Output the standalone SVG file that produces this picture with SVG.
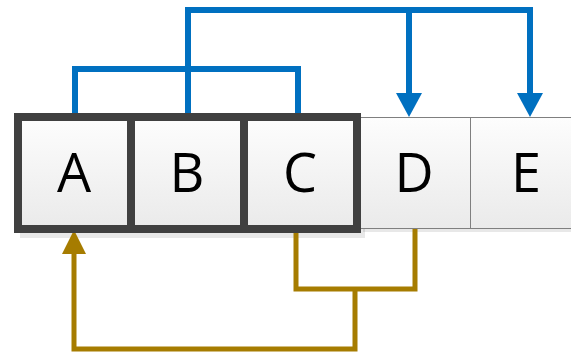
<svg xmlns="http://www.w3.org/2000/svg" width="571" height="352" viewBox="0 0 571 352">
  <style>
    .lbl { font-family: "Open Sans", "Noto Sans", "DejaVu Sans", sans-serif; font-size: 54px; fill: #000; text-anchor: middle; }
    .thick { fill: url(#g); stroke: #404040; stroke-width: 8; }
    .thin { fill: url(#g); stroke: #7f7f7f; stroke-width: 1; }
    .shadow { fill: #000; opacity: 0.09; }
    .blue { fill: none; stroke: #0070C0; stroke-width: 6; }
    .gold { fill: none; stroke: #A67C00; stroke-width: 5; }
  </style>
  <defs>
    <linearGradient id="g" x1="0" y1="0" x2="0" y2="1">
      <stop offset="0" stop-color="#fdfdfd"/>
      <stop offset="1" stop-color="#eaeaea"/>
    </linearGradient>
    <marker id="ab" viewBox="0 0 24 26" refX="0" refY="13" markerWidth="24" markerHeight="26" markerUnits="userSpaceOnUse" orient="auto">
      <path d="M0,0 L24,13 L0,26 z" fill="#0070C0"/>
    </marker>
    <marker id="ag" viewBox="0 0 24 24" refX="0" refY="12" markerWidth="24" markerHeight="24" markerUnits="userSpaceOnUse" orient="auto">
      <path d="M0,0 L24,12 L0,24 z" fill="#A67C00"/>
    </marker>
  </defs>

  <rect class="shadow" x="20" y="119" width="345" height="119"/>
  <rect class="shadow" x="363" y="120" width="210" height="112"/>

  <g id="connectors">
    <path class="blue" d="M75,114 V69 H298 V114"/>
    <path class="blue" d="M188,114 V10 H530 V93" marker-end="url(#ab)"/>
    <path class="blue" d="M409,10 V93" marker-end="url(#ab)"/>
    <path class="gold" d="M296,233 V289 H415 V229"/>
    <path class="gold" d="M355,289 V349 H74 V254" marker-end="url(#ag)"/>
  </g>

  <g id="node-D">
    <rect class="thin" x="360.5" y="117.5" width="110" height="111"/>
    <text class="lbl" x="414" y="192">D</text>
  </g>
  <g id="node-E">
    <rect class="thin" x="470.5" y="117.5" width="113" height="111"/>
    <text class="lbl" x="526" y="192">E</text>
  </g>
  <g id="node-A">
    <rect class="thick" x="18" y="117" width="113" height="112"/>
    <text class="lbl" x="74" y="192">A</text>
  </g>
  <g id="node-B">
    <rect class="thick" x="131" y="117" width="113" height="112"/>
    <text class="lbl" x="187" y="192">B</text>
  </g>
  <g id="node-C">
    <rect class="thick" x="244" y="117" width="113" height="112"/>
    <text class="lbl" x="300" y="192">C</text>
  </g>
</svg>
